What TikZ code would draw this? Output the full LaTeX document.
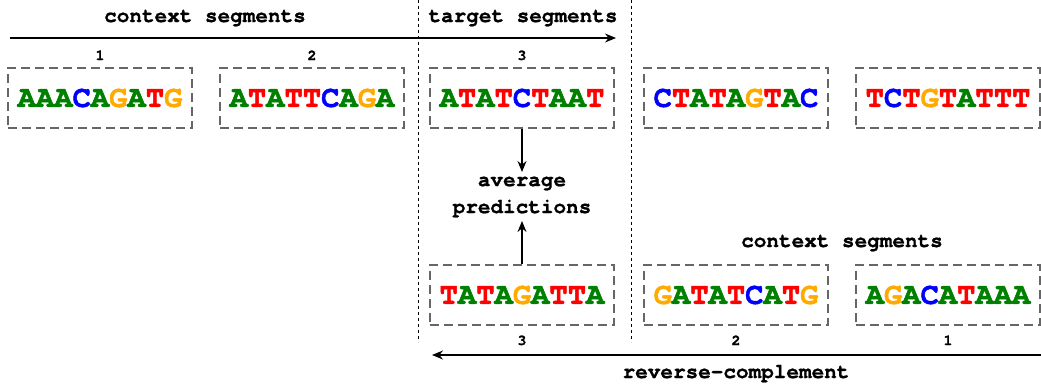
\documentclass[tikz,border=0pt]{standalone}
\usepackage{fontspec}
\setmonofont{TeX Gyre Cursor}
\newfontfamily\seqfont{texgyrecursor-bold.otf}[FakeBold=1.6]
\newfontfamily\lblfont{texgyrecursor-bold.otf}[FakeBold=1.0]
\usetikzlibrary{arrows.meta}
\definecolor{ng}{RGB}{0,128,0}
\definecolor{nb}{RGB}{0,0,255}
\definecolor{nr}{RGB}{255,0,0}
\definecolor{no}{RGB}{255,170,0}
\definecolor{boxgray}{RGB}{102,102,102}
\newcommand{\nA}{\textcolor{ng}{A}}
\newcommand{\nC}{\textcolor{nb}{C}}
\newcommand{\nG}{\textcolor{no}{G}}
\newcommand{\nT}{\textcolor{nr}{T}}
\tikzset{
  seqbox/.style={draw=boxgray, line width=2pt, dash pattern=on 9pt off 5pt,
    minimum width=184pt, minimum height=60pt, inner sep=0pt,
    font=\seqfont\fontsize{30.5}{31}\selectfont},
  lbl/.style={anchor=base, inner sep=0pt, font=\lblfont\fontsize{21}{24}\selectfont},
  num/.style={anchor=base, inner sep=0pt, font=\lblfont\fontsize{15}{16}\selectfont},
  arr/.style={draw=black, line width=1.3pt, -{Stealth[length=11pt,width=9pt]}},
  divider/.style={draw=black, line width=0.8pt, dash pattern=on 3pt off 3pt}
}
\begin{document}
\begin{tikzpicture}[x=1pt,y=-1pt]
\useasboundingbox (0,0) rectangle (1041,383);
% dividers
\coordinate (d1t) at (418,0); \coordinate (d1b) at (418,342);
\coordinate (d2t) at (631,0); \coordinate (d2b) at (631,342);
\draw[divider] (d1t) -- (d1b);
\draw[divider] (d2t) -- (d2b);
% top labels
\node[lbl] (ctxtop) at (205,22) {context segments};
\node[lbl] (tgt) at (523,22) {target segments};
\coordinate (ta) at (10,38); \coordinate (tb) at (616,38);
\draw[arr] (ta) -- (tb);
% numbers top
\node[num] (n1) at (100,60) {1};
\node[num] (n2) at (312,60) {2};
\node[num] (n3) at (522,60) {3};
% top boxes
\node[seqbox] (b1) at (100,98) {\nA\nA\nA\nC\nA\nG\nA\nT\nG};
\node[seqbox] (b2) at (312,98) {\nA\nT\nA\nT\nT\nC\nA\nG\nA};
\node[seqbox] (b3) at (522,98) {\nA\nT\nA\nT\nC\nT\nA\nA\nT};
\node[seqbox] (b4) at (736,98) {\nC\nT\nA\nT\nA\nG\nT\nA\nC};
\node[seqbox] (b5) at (948,98) {\nT\nC\nT\nG\nT\nA\nT\nT\nT};
% average predictions
\node[lbl, anchor=center, align=center, font=\lblfont\fontsize{21}{27}\selectfont] (avg) at (522,197) {average\\predictions};
% bottom boxes
\node[seqbox] (r3) at (522,295) {\nT\nA\nT\nA\nG\nA\nT\nT\nA};
\node[seqbox] (r2) at (736,295) {\nG\nA\nT\nA\nT\nC\nA\nT\nG};
\node[seqbox] (r1) at (948,295) {\nA\nG\nA\nC\nA\nT\nA\nA\nA};
\draw[arr] (b3.south) -- (522,172);
\draw[arr] (r3.north) -- (522,221);
% bottom labels
\node[lbl] (ctxbot) at (842,247) {context segments};
\node[num] (m3) at (522,345) {3};
\node[num] (m2) at (736,345) {2};
\node[num] (m1) at (948,345) {1};
\coordinate (ba) at (1041,355); \coordinate (bb) at (432,355);
\draw[arr] (ba) -- (bb);
\node[lbl] (rc) at (736,378) {reverse-complement};
\end{tikzpicture}
\end{document}
